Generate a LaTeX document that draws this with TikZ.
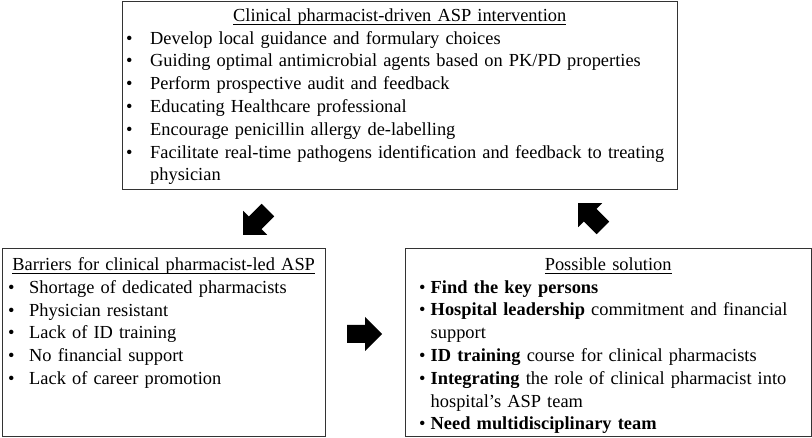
\documentclass[tikz,border=0pt]{standalone}
\usepackage{fontspec}
\setmainfont{Liberation Serif}
\usepackage{tikz}
\usetikzlibrary{positioning}

\newlength{\bulletgap}
\newcommand{\headline}[1]{\setbox0\hbox{#1}\rlap{\rule[-3.5pt]{\wd0}{0.9pt}}\box0}
\newcommand{\bitem}[1]{\par\noindent\hangindent=\bulletgap\hangafter=1\makebox[\bulletgap][l]{\textbullet}#1}

\begin{document}
\begin{tikzpicture}[x=1pt, y=1pt]
	\tikzstyle{panel}=[rectangle, draw=black!80, line width=1.1pt, inner sep=0pt, anchor=north west]
	\tikzstyle{panelbody}=[inner sep=0pt, align=left, font=\fontsize{18.4}{22.8}\selectfont]

	\useasboundingbox (0,0) rectangle (812,-438);

	\node[panel, minimum width=555pt, minimum height=188pt] (intervention) at (122,-1) {};
	\node[panel, minimum width=323pt, minimum height=188pt] (barriers) at (2,-248) {};
	\node[panel, minimum width=406pt, minimum height=188pt] (solution) at (405,-248) {};

	\node[panelbody, text width=547pt, below right=7.4pt and 4pt of intervention.north west] (interventiontext) {%
		\setlength{\bulletgap}{24pt}%
		{\centering\headline{Clinical pharmacist-driven ASP intervention}\par}
		\bitem{Develop local guidance and formulary choices}
		\bitem{Guiding optimal antimicrobial agents based on PK/PD properties}
		\bitem{Perform prospective audit and feedback}
		\bitem{Educating Healthcare professional}
		\bitem{Encourage penicillin allergy de-labelling}
		\bitem{Facilitate real-time pathogens identification and feedback to treating\newline physician}\par
	};

	\node[panelbody, text width=311pt, below right=9.4pt and 6pt of barriers.north west] (barrierstext) {%
		\setlength{\bulletgap}{21pt}%
		{\centering\headline{Barriers for clinical pharmacist-led ASP}\par}
		\bitem{Shortage of dedicated pharmacists}
		\bitem{Physician resistant}
		\bitem{Lack of ID training}
		\bitem{No financial support}
		\bitem{Lack of career promotion}\par
	};

	\node[panelbody, text width=378pt, below right=9.4pt and 14pt of solution.north west] (solutiontext) {%
		\setlength{\bulletgap}{11.5pt}%
		{\centering\headline{Possible solution}\par}
		\bitem{\textbf{Find the key persons}}
		\bitem{\textbf{Hospital leadership} commitment and financial\newline support}
		\bitem{\textbf{ID training} course for clinical pharmacists}
		\bitem{\textbf{Integrating} the role of clinical pharmacist into\newline hospital’s ASP team}
		\bitem{\textbf{Need multidisciplinary team}}\par
	};

	% block arrows between the panels
	\foreach \ax/\ay/\ang in {255.5/-222.5/-135, 364.5/-334/0, 590.5/-215.5/135}{
		\fill[black, shift={(\ax,\ay)}, rotate=\ang] (-17.5,-9) -- (0.5,-9) -- (0.5,-17) -- (17.5,0) -- (0.5,17) -- (0.5,9) -- (-17.5,9) -- cycle;
	}
\end{tikzpicture}
\end{document}
